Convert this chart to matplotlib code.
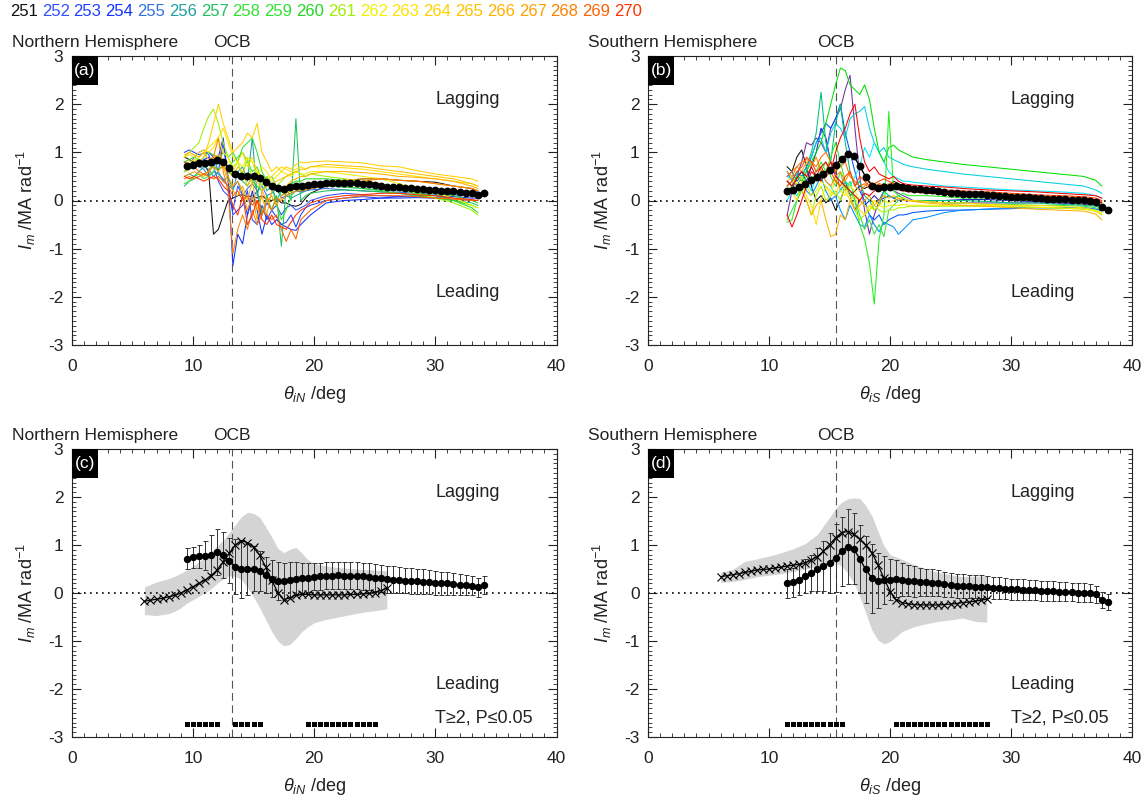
import matplotlib
matplotlib.use("Agg")
import matplotlib.pyplot as plt
import numpy as np
from matplotlib.patches import Rectangle
from matplotlib.ticker import MultipleLocator

plt.rcParams['font.family'] = ['Liberation Sans', 'DejaVu Sans']
plt.rcParams['mathtext.fontset'] = 'custom'
plt.rcParams['mathtext.rm'] = 'Liberation Sans'
plt.rcParams['mathtext.it'] = 'Liberation Sans:italic'
plt.rcParams['mathtext.bf'] = 'Liberation Sans:bold'
plt.rcParams['axes.unicode_minus'] = False

# ---------------------------------------------------------------- events
event_ids = list(range(251, 271))
event_colors = ['#111111', '#3050ff', '#2040ff', '#1030ff', '#3070e0',
                '#20a0a0', '#20c060', '#30e030', '#30e030', '#20d820',
                '#a0f000', '#f0f000', '#ffe000', '#ffd000', '#ffc000',
                '#ffb000', '#ffa000', '#ff8000', '#ff6000', '#ff3000']
south_colors = ['#111111', '#7030a0', '#2020c0', '#0050ff', '#0090ff',
                '#00d0e0', '#00e8ff', '#00c080', '#00e000', '#20f020',
                '#40e040', '#b0f000', '#f0f000', '#ffe000', '#ffb000',
                '#ff9000', '#ff7000', '#ff4000', '#ff0000', '#e00000']

# ---------------------------------------------------------------- OCB positions
ocb_n = 13.25
ocb_s = 15.55

# ---------------------------------------------------------------- individual events, north
xa_grid = [9.3, 9.7, 10.1, 10.5, 10.9, 11.3, 11.7, 12.1, 12.5, 12.9, 13.3, 13.7,
           14.1, 14.5, 14.9, 15.3, 15.7, 16.1, 16.5, 16.9, 17.3, 17.7, 18.1, 18.5,
           18.9, 19.3, 19.7, 21.0, 22.5, 24.0, 25.5, 27.0, 28.5, 30.0, 31.5, 33.0, 33.5]

a251 = [0.9, 0.85, 0.8, 0.85, 0.75, 0.6, -0.7, -0.6, -0.3, 0.0, 0.05, 0.1, 0.12, 0.08, 0.1, 0.05, 0.1, 0.02, 0.0, 0.05, -0.05, -0.05, -0.1, -0.12, -0.08, 0.05, 0.15,
        0.3, 0.4, 0.45, 0.45, 0.42, 0.4, 0.38, 0.3, 0.25, 0.2]
a252 = [0.6, 0.7, 0.9, 1.0, 1.05, 0.95, 0.7, 0.4, 0.2, 0.1, -0.2, 0.3, 0.1, -0.3, 0.05, 0.2, -0.3, -0.05, -0.2, -0.1, -0.3, -0.15, -0.1, -0.2, -0.15, -0.1, 0.0,
        0.1, 0.15, 0.12, 0.1, 0.08, 0.07, 0.05, 0.03, 0.0, 0.0]
a253 = [1.0, 1.05, 1.0, 0.95, 0.98, 1.0, 0.9, 0.6, 1.2, 0.4, -0.3, -0.2, -0.1, 0.2, -0.4, -0.5, -0.1, -0.4, -0.2, -0.35, -0.5, -0.45, -0.3, -0.55, -0.3, -0.15, -0.1,
        0.0, 0.05, 0.08, 0.05, 0.05, 0.06, 0.05, 0.08, 0.15, 0.2]
a254 = [0.8, 0.75, 0.7, 0.8, 0.85, 0.9, 0.7, 0.9, 1.3, 0.5, -1.35, -0.7, -0.9, -0.3, 0.2, -0.2, -0.7, -0.3, -0.5, -0.4, -0.5, -0.55, -0.6, -0.62, -0.5, -0.4, -0.3,
        -0.05, 0.0, 0.02, 0.05, 0.08, 0.1, 0.1, 0.08, 0.05, 0.05]
a255 = [0.7, 0.75, 0.8, 0.7, 0.65, 0.5, 0.6, 0.55, 0.45, 0.3, 0.25, 0.4, 0.1, 0.25, 0.35, 0.2, 0.3, 0.1, 0.15, 0.25, 0.05, 0.1, 0.15, 0.2, 0.18, 0.2, 0.22,
        0.25, 0.22, 0.2, 0.18, 0.17, 0.15, 0.13, 0.12, 0.1, 0.1]
a256 = [0.5, 0.55, 0.5, 0.6, 0.7, 0.65, 0.5, 0.6, 0.4, 0.5, 0.2, 0.6, 0.7, 0.4, 1.3, 0.1, 0.5, 0.2, 0.3, 0.0, 0.2, 0.1, 0.05, 0.1, 0.15, 0.2, 0.25,
        0.3, 0.28, 0.25, 0.22, 0.2, 0.18, 0.15, 0.13, 0.1, 0.1]
a257 = [0.3, 0.4, 0.45, 0.5, 0.55, 0.6, 0.75, 0.9, 0.8, 0.7, 0.5, 0.6, 0.4, 0.3, 0.5, 0.2, -0.3, 0.1, -0.2, 0.1, -0.95, 0.3, 0.0, 1.7, 0.0, 0.1, 0.15,
        0.2, 0.22, 0.2, 0.18, 0.15, 0.1, 0.05, 0.0, -0.05, -0.1]
a258 = [0.35, 0.4, 0.5, 0.55, 0.45, 0.5, 0.6, 0.8, 1.0, 0.9, 1.0, 0.8, 1.1, 1.2, 1.3, 1.0, 0.6, 0.4, 0.5, 0.3, 0.1, 0.2, 0.3, 0.25, 0.2, 0.25, 0.3,
        0.3, 0.28, 0.25, 0.2, 0.15, 0.1, 0.05, 0.0, -0.1, -0.15]
a259 = [0.6, 0.65, 0.7, 0.8, 0.9, 1.0, 0.95, 0.9, 0.85, 0.7, 0.8, 0.9, 1.0, 0.8, 0.6, 0.7, 0.4, 0.5, 0.3, -0.1, -0.4, -0.2, 0.1, 0.2, 0.25, 0.3, 0.35,
        0.4, 0.38, 0.35, 0.3, 0.25, 0.2, 0.15, 0.1, 0.0, -0.05]
a260 = [0.8, 0.85, 0.9, 0.85, 0.8, 0.75, 0.7, 0.65, 0.7, 0.6, 0.5, 0.55, 0.45, 0.5, 0.4, 0.3, 0.2, 0.35, 0.3, 0.25, 0.2, 0.3, 0.35, 0.4, 0.4, 0.45, 0.45,
        0.45, 0.42, 0.38, 0.3, 0.22, 0.15, 0.1, 0.0, -0.15, -0.25]
a261 = [0.9, 1.0, 1.1, 1.2, 1.5, 1.75, 1.9, 1.6, 1.2, 0.9, 0.7, 0.8, 0.5, 0.9, 0.4, 0.6, 0.3, 0.5, 0.2, 0.3, 0.4, 0.5, 0.55, 0.6, 0.55, 0.5, 0.55,
        0.5, 0.45, 0.4, 0.35, 0.25, 0.15, 0.05, -0.05, -0.2, -0.3]
a262 = [0.7, 0.75, 0.8, 0.9, 1.0, 1.1, 1.2, 1.3, 1.0, 0.9, 0.6, 0.8, 0.7, 0.9, 0.8, 0.5, 0.7, 0.6, 0.4, 0.5, 0.6, 0.55, 0.5, 0.6, 0.55, 0.55, 0.6,
        0.6, 0.55, 0.5, 0.45, 0.35, 0.25, 0.15, 0.05, -0.1, -0.15]
a263 = [0.9, 0.95, 0.9, 1.0, 1.05, 1.0, 1.1, 1.3, 1.5, 1.2, 0.9, 0.8, 1.0, 0.7, 0.9, 0.6, 0.5, 0.4, 0.5, 0.6, 0.7, 0.65, 0.6, 0.65, 0.7, 0.65, 0.7,
        0.7, 0.68, 0.65, 0.6, 0.55, 0.5, 0.45, 0.4, 0.35, 0.3]
a264 = [0.75, 0.8, 0.85, 0.8, 0.9, 1.2, 1.6, 2.0, 1.6, 1.3, 1.0, 1.1, 1.2, 1.4, 1.3, 1.6, 1.0, 0.8, 0.6, 0.7, 0.6, 0.7, 0.65, 0.75, 0.8, 0.78, 0.8,
        0.82, 0.8, 0.78, 0.72, 0.7, 0.62, 0.55, 0.5, 0.45, 0.4]
a265 = [0.6, 0.65, 0.7, 0.75, 0.7, 0.8, 0.9, 0.8, 0.7, 0.6, 0.5, 0.7, 0.6, 0.3, 0.5, 0.4, 0.2, 0.3, 0.35, 0.4, 0.45, 0.5, 0.55, 0.6, 0.65, 0.65, 0.7,
        0.75, 0.72, 0.7, 0.65, 0.6, 0.55, 0.5, 0.45, 0.35, 0.3]
a266 = [0.95, 1.0, 0.95, 0.9, 1.0, 0.85, 0.9, 0.95, 0.7, 0.4, 0.2, 0.1, 0.3, 0.0, 0.4, -0.2, 0.1, -0.3, 0.2, 0.3, 0.2, 0.3, 0.4, 0.45, 0.5, 0.5, 0.55,
        0.6, 0.6, 0.58, 0.55, 0.5, 0.48, 0.45, 0.4, 0.3, 0.25]
a267 = [0.5, 0.55, 0.6, 0.55, 0.5, 0.6, 0.7, 0.6, 0.8, 0.5, 0.3, 0.4, 0.2, -0.2, 0.1, -0.4, 0.2, 0.0, 0.1, -0.1, 0.1, 0.15, 0.2, 0.25, 0.3, 0.35, 0.35,
        0.4, 0.42, 0.45, 0.45, 0.42, 0.4, 0.35, 0.3, 0.25, 0.2]
a268 = [0.45, 0.5, 0.45, 0.5, 0.55, 0.6, 0.9, 1.3, 0.6, 0.2, -1.1, -0.6, -0.3, -0.6, -0.2, -0.5, -0.3, 0.0, -0.2, 0.05, 0.0, 0.1, 0.15, 0.2, 0.2, 0.22, 0.25,
        0.3, 0.35, 0.4, 0.45, 0.42, 0.4, 0.35, 0.3, 0.25, 0.2]
a269 = [0.8, 0.75, 0.7, 0.6, 0.55, 0.5, 0.45, 0.5, 0.4, 0.3, 0.1, 0.2, 0.0, 0.1, -0.1, 0.0, -0.2, -0.3, -0.4, -0.3, -0.6, -0.85, -0.6, -0.8, -0.4, -0.3, -0.2,
        0.0, 0.05, 0.1, 0.1, 0.1, 0.08, 0.05, 0.03, 0.0, 0.0]
a270 = [0.5, 0.45, 0.5, 0.45, 0.4, 0.45, 0.5, 0.45, 0.3, 0.2, -0.1, -0.3, 0.1, -0.5, -0.3, 0.0, -0.4, -0.5, -0.3, -0.5, -0.55, -0.6, -0.45, -0.3, -0.2, -0.15, -0.05,
        0.05, 0.1, 0.12, 0.15, 0.15, 0.12, 0.1, 0.05, 0.02, 0.0]
north_events = [a251, a252, a253, a254, a255, a256, a257, a258, a259, a260,
                a261, a262, a263, a264, a265, a266, a267, a268, a269, a270]

# ---------------------------------------------------------------- individual events, south
xb_grid = [11.5, 11.9, 12.3, 12.7, 13.1, 13.5, 13.9, 14.3, 14.7, 15.1, 15.5, 15.9,
           16.3, 16.7, 17.1, 17.5, 17.9, 18.3, 18.7, 19.1, 19.5, 19.9, 20.3, 20.7,
           21.1, 21.5, 21.9, 23.0, 24.5, 26.0, 28.0, 30.0, 32.0, 34.0, 36.0, 37.0, 37.5]

b01 = [0.7, 0.6, 0.9, 1.05, 0.7, 0.3, 0.0, 0.1, -0.05, 0.05, -0.2, 0.0, 0.3, 0.1, 0.2, 0.3, 0.25, 0.3, 0.35, 0.3, 0.35, 0.3, 0.4, 0.35, 0.3, 0.3, 0.28,
       0.25, 0.2, 0.15, 0.12, 0.1, 0.08, 0.05, 0.0, -0.05, -0.1]
b02 = [-0.3, 0.2, 0.5, 0.8, 1.2, 1.15, 1.3, 1.2, 1.0, 1.5, 1.7, 1.9, 2.3, 2.6, 1.5, 0.5, -0.2, -0.7, -0.3, 0.0, 0.2, 0.3, 0.2, 0.15, 0.1, 0.05, 0.0,
       -0.02, -0.05, -0.05, -0.05, -0.05, -0.05, -0.05, -0.08, -0.1, -0.15]
b03 = [0.4, 0.3, 0.5, 0.6, 0.4, 0.7, 1.0, 1.5, 1.3, 0.8, 0.6, 0.2, 0.4, 0.1, -0.2, 0.0, -0.1, 0.0, 0.1, 0.0, 0.05, 0.1, 0.05, 0.0, 0.02, 0.0, 0.0,
       0.0, 0.0, 0.02, 0.02, 0.0, -0.02, -0.05, -0.05, -0.08, -0.12]
b04 = [0.5, 0.6, 0.4, 0.5, 0.7, 0.9, 1.2, 1.4, 1.6, 1.5, 1.7, 2.0, 1.4, 1.0, 0.6, 0.2, 0.0, -0.3, -0.4, -0.3, -0.5, -0.4, -0.35, -0.3, -0.3, -0.28, -0.25,
       -0.22, -0.2, -0.2, -0.18, -0.17, -0.15, -0.15, -0.15, -0.18, -0.2]
b05 = [0.6, 0.4, 0.3, 0.5, 0.2, 0.1, 0.3, 0.5, 0.2, 0.0, 0.1, -0.2, -0.4, -0.1, -0.3, -0.5, -0.55, -0.3, -0.5, -0.65, -0.45, -0.5, -0.55, -0.7, -0.6, -0.5, -0.4,
       -0.35, -0.25, -0.2, -0.18, -0.15, -0.15, -0.15, -0.15, -0.18, -0.22]
b06 = [0.5, 0.45, 0.55, 0.4, 0.6, 0.9, 1.2, 1.3, 1.0, 1.4, 1.6, 1.5, 1.3, 1.7, 1.8, 1.85, 1.95, 1.5, 1.2, 1.0, 1.1, 0.9, 0.85, 0.8, 0.75, 0.72, 0.7,
       0.65, 0.6, 0.55, 0.5, 0.45, 0.4, 0.35, 0.3, 0.22, 0.15]
b07 = [0.0, 0.2, 0.1, 0.3, 0.4, 0.2, 0.5, 0.6, 0.4, 0.3, 0.1, 0.2, 0.4, 0.3, 0.5, 0.7, 1.1, 0.9, 1.2, 1.0, 0.8, 0.6, 0.5, 0.45, 0.4, 0.4, 0.38,
       0.35, 0.3, 0.28, 0.25, 0.22, 0.2, 0.18, 0.15, 0.1, 0.05]
b08 = [0.3, 0.4, 0.6, 0.5, 0.7, 1.0, 1.4, 2.25, 1.2, 0.8, 1.6, 2.0, 1.2, 0.6, 0.3, 0.4, 0.1, 0.0, -0.2, -0.1, 0.2, 0.1, 0.05, 0.1, 0.05, 0.0, 0.0,
       0.0, 0.0, 0.0, -0.02, -0.05, -0.05, -0.08, -0.1, -0.12, -0.15]
b09 = [0.2, 0.3, 0.5, 0.4, 0.6, 0.8, 1.0, 1.2, 1.6, 2.0, 2.4, 2.75, 2.7, 2.4, 2.3, 2.2, 2.4, 2.1, 1.5, 1.0, 0.8, 1.1, 1.15, 1.05, 1.0, 0.95, 0.9,
       0.85, 0.8, 0.75, 0.7, 0.65, 0.6, 0.55, 0.5, 0.42, 0.3]
b10 = [-0.45, -0.4, 0.0, 0.3, 0.5, 0.4, 0.6, 0.8, 0.6, 0.9, 1.2, 0.8, 0.4, 0.2, 0.0, -0.5, -0.8, -1.3, -2.15, -0.8, -0.3, 1.85, 0.2, 0.1, 0.15, 0.1, 0.1,
       0.1, 0.08, 0.05, 0.05, 0.02, 0.0, 0.0, -0.03, -0.05, -0.1]
b11 = [-0.4, -0.2, 0.0, 0.2, 0.3, 0.5, 0.4, 0.6, 0.8, 0.5, 0.3, 0.6, 0.2, 0.4, 0.0, -0.3, -0.6, -0.4, -0.7, -0.5, -0.75, -0.2, -0.1, 0.0, 0.05, 0.0, 0.0,
       -0.02, -0.05, -0.05, -0.08, -0.08, -0.1, -0.1, -0.12, -0.15, -0.2]
b12 = [0.2, 0.25, 0.3, 0.2, 0.0, -0.3, 0.1, 0.3, 0.0, 0.1, 0.2, 0.0, 0.3, 0.1, -0.2, -0.4, -0.3, -0.2, -0.1, -0.2, -0.25, -0.2, -0.2, -0.15, -0.15, -0.12, -0.12,
       -0.12, -0.12, -0.12, -0.12, -0.12, -0.14, -0.16, -0.18, -0.22, -0.3]
b13 = [0.3, 0.4, 0.35, 0.5, 0.3, 0.1, 0.2, 0.4, 0.3, 0.1, 0.5, 0.2, 0.1, 0.3, 0.2, 0.0, -0.1, -0.2, 0.0, -0.1, -0.15, -0.1, -0.1, -0.1, -0.08, -0.1, -0.1,
       -0.1, -0.1, -0.1, -0.1, -0.12, -0.14, -0.15, -0.18, -0.22, -0.28]
b14 = [0.1, 0.2, 0.0, 0.4, 0.1, -0.1, -0.5, 0.0, 0.3, 0.2, 0.1, 0.4, 0.2, 0.0, 0.1, -0.2, -0.3, -0.1, -0.2, -0.1, 0.0, -0.05, 0.0, 0.05, 0.05, 0.0, 0.0,
       -0.02, -0.05, -0.05, -0.08, -0.1, -0.1, -0.12, -0.15, -0.2, -0.25]
b15 = [0.4, 0.5, 0.3, 0.2, 0.0, -0.3, -0.1, 0.0, -0.4, -0.75, -0.7, -0.3, -0.4, 0.0, -0.2, -0.1, 0.0, 0.1, -0.1, 0.0, 0.1, 0.05, 0.1, 0.05, 0.0, 0.0, -0.02,
       -0.05, -0.08, -0.1, -0.12, -0.15, -0.18, -0.2, -0.22, -0.28, -0.4]
b16 = [0.6, 0.5, 0.7, 0.6, 0.8, 0.7, 0.9, 0.6, 0.4, 0.3, 0.5, 0.6, 0.4, 0.6, 0.3, 0.2, 0.3, 0.4, 0.3, 0.35, 0.3, 0.35, 0.3, 0.3, 0.28, 0.25, 0.25,
       0.22, 0.2, 0.18, 0.15, 0.12, 0.1, 0.08, 0.05, 0.0, -0.05]
b17 = [0.5, 0.6, 0.7, 0.8, 0.85, 0.8, 0.7, 0.9, 1.0, 0.8, 0.6, 0.7, 0.8, 0.5, 0.4, 0.3, 0.35, 0.25, 0.3, 0.35, 0.3, 0.28, 0.3, 0.25, 0.22, 0.2, 0.2,
       0.2, 0.18, 0.15, 0.12, 0.1, 0.08, 0.06, 0.05, 0.02, -0.02]
b18 = [0.3, 0.4, 0.6, 0.7, 0.9, 0.8, 0.6, 0.7, 0.5, 0.6, 0.4, 0.3, 0.5, 0.6, 0.3, 0.5, 0.4, 0.3, 0.35, 0.4, 0.45, 0.4, 0.35, 0.3, 0.3, 0.28, 0.28,
       0.25, 0.22, 0.2, 0.18, 0.15, 0.12, 0.1, 0.08, 0.05, 0.0]
b19 = [-0.3, -0.55, -0.3, 0.0, 0.3, 0.6, 0.5, 0.7, 0.8, 0.6, 1.0, 1.3, 1.5, 1.8, 2.0, 1.3, 0.8, 0.6, 0.7, 0.55, 0.5, 0.45, 0.5, 0.4, 0.35, 0.33, 0.32,
       0.3, 0.28, 0.25, 0.22, 0.2, 0.18, 0.15, 0.12, 0.1, 0.05]
b20 = [0.4, 0.3, 0.45, 0.6, 0.5, 0.7, 0.5, 0.4, 0.6, 0.8, 0.5, 0.4, 0.3, 0.2, 0.1, 0.0, 0.15, 0.1, 0.2, 0.25, 0.3, 0.28, 0.25, 0.22, 0.2, 0.18, 0.18,
       0.15, 0.13, 0.12, 0.1, 0.08, 0.06, 0.05, 0.03, 0.0, -0.05]
south_events = [b01, b02, b03, b04, b05, b06, b07, b08, b09, b10,
                b11, b12, b13, b14, b15, b16, b17, b18, b19, b20]

# ---------------------------------------------------------------- event averages (0.5 deg bins)
mean_n_x = np.arange(9.5, 34.01, 0.5)
mean_n = [0.71, 0.74, 0.77, 0.78, 0.8, 0.85, 0.8, 0.67, 0.55, 0.5,
          0.5, 0.51, 0.46, 0.38, 0.3, 0.25, 0.24, 0.28, 0.3, 0.31,
          0.32, 0.34, 0.35, 0.36, 0.36, 0.37, 0.36, 0.36, 0.36, 0.35,
          0.34, 0.32, 0.31, 0.29, 0.28, 0.27, 0.26, 0.25, 0.24, 0.23,
          0.22, 0.21, 0.2, 0.2, 0.19, 0.17, 0.16, 0.15, 0.12, 0.16]
err_n = [0.22, 0.22, 0.24, 0.3, 0.4, 0.48, 0.48, 0.47, 0.58, 0.6,
         0.54, 0.46, 0.42, 0.38, 0.38, 0.4, 0.39, 0.36, 0.34, 0.32,
         0.3, 0.28, 0.28, 0.28, 0.28, 0.28, 0.28, 0.28, 0.28, 0.28,
         0.28, 0.28, 0.28, 0.28, 0.28, 0.27, 0.27, 0.27, 0.26, 0.26,
         0.25, 0.25, 0.24, 0.24, 0.23, 0.22, 0.21, 0.2, 0.2, 0.19]

mean_s_x = np.arange(11.5, 38.01, 0.5)
mean_s = [0.2, 0.22, 0.28, 0.35, 0.42, 0.49, 0.56, 0.63, 0.73, 0.87,
          0.96, 0.92, 0.71, 0.49, 0.31, 0.26, 0.27, 0.28, 0.3, 0.28,
          0.26, 0.24, 0.23, 0.22, 0.21, 0.2, 0.18, 0.16,
          0.15, 0.14, 0.14, 0.13, 0.13, 0.12, 0.11, 0.1, 0.09, 0.08,
          0.08, 0.07, 0.07, 0.06, 0.05, 0.04, 0.04, 0.03, 0.03, 0.02,
          0.01, 0.01, 0.0, -0.03, -0.14, -0.19]
err_s = [0.3, 0.3, 0.32, 0.35, 0.38, 0.45, 0.52, 0.62, 0.7, 0.72,
         0.78, 0.74, 0.7, 0.7, 0.72, 0.58, 0.5, 0.43, 0.38, 0.35,
         0.33, 0.32, 0.3, 0.29, 0.28, 0.27, 0.26, 0.25,
         0.25, 0.25, 0.24, 0.24, 0.24, 0.23, 0.23, 0.23, 0.22, 0.22,
         0.22, 0.22, 0.21, 0.21, 0.21, 0.2, 0.2, 0.2, 0.2, 0.19,
         0.19, 0.19, 0.18, 0.18, 0.17, 0.17]

# ---------------------------------------------------------------- reference profiles with spread
ref_n_x = np.arange(6.0, 26.01, 0.5)
ref_n = [-0.17, -0.15, -0.13, -0.11, -0.08, -0.05, 0.0, 0.06, 0.13, 0.2,
         0.27, 0.36, 0.48, 0.65, 0.83, 1.0, 1.09, 1.05, 0.95, 0.79,
         0.55, 0.27, 0.01, -0.14, -0.1, -0.04, -0.03, -0.03, -0.04, -0.04,
         -0.04, -0.04, -0.04, -0.04, -0.03, -0.03, -0.02, -0.01, 0.01, 0.05, 0.1]
band_n_x = [6, 7, 8, 8.5, 9, 9.5, 10, 10.5, 11, 11.5, 12, 12.5, 13, 13.5, 14, 14.5,
            15, 15.5, 16, 16.5, 17, 17.5, 18, 18.5, 19, 19.5, 20, 21, 22, 23, 24, 25, 26]
band_n_hi = [0.13, 0.23, 0.3, 0.35, 0.41, 0.48, 0.56, 0.65, 0.76, 0.86, 0.98, 1.1, 1.26, 1.42, 1.59, 1.68,
             1.66, 1.58, 1.38, 1.17, 0.93, 0.84, 0.91, 0.95, 0.83, 0.69, 0.62, 0.56, 0.53, 0.51, 0.49, 0.48, 0.46]
band_n_lo = [-0.45, -0.47, -0.43, -0.38, -0.31, -0.21, -0.14, -0.07, 0.0, 0.09, 0.2, 0.3, 0.36, 0.35, 0.28, 0.12,
             -0.08, -0.3, -0.55, -0.8, -1.0, -1.1, -1.07, -0.95, -0.8, -0.7, -0.62, -0.55, -0.5, -0.45, -0.4, -0.37, -0.33]

ref_s_x = np.arange(6.0, 28.01, 0.5)
ref_s = [0.34, 0.36, 0.38, 0.4, 0.43, 0.45, 0.48, 0.49, 0.5, 0.52,
         0.54, 0.56, 0.58, 0.6, 0.63,
         0.69, 0.76, 0.87, 1.01, 1.15, 1.26, 1.28, 1.22, 1.12, 0.99,
         0.84, 0.59, 0.31, 0.03,
         -0.14, -0.2, -0.23, -0.24, -0.25, -0.25, -0.25, -0.25, -0.24, -0.23,
         -0.22, -0.2, -0.19, -0.17, -0.15, -0.13]
band_s_x = [6, 7, 8, 9, 10, 11, 12, 13, 14, 14.5, 15, 15.5, 16, 16.5, 17, 17.5,
            18, 18.5, 19, 19.5, 20, 20.5, 21, 22, 23, 24, 25, 26, 27, 28]
band_s_hi = [0.43, 0.49, 0.66, 0.71, 0.77, 0.84, 0.92, 1.03, 1.22, 1.4, 1.57, 1.76, 1.89, 1.96, 1.98, 1.97,
             1.82, 1.61, 1.29, 0.98, 0.8, 0.75, 0.7, 0.59, 0.5, 0.43, 0.38, 0.34, 0.35, 0.36]
band_s_lo = [0.22, 0.24, 0.28, 0.34, 0.37, 0.4, 0.45, 0.5, 0.56, 0.59, 0.62, 0.63, 0.56, 0.42, 0.21, -0.07,
             -0.42, -0.77, -0.98, -1.06, -1.01, -0.91, -0.8, -0.7, -0.64, -0.59, -0.56, -0.52, -0.59, -0.61]

# ---------------------------------------------------------------- significant bins (T>=2, P<=0.05)
sig_n = [9.5, 10, 10.5, 11, 11.5, 12, 13.5, 14, 14.5, 15, 15.5,
         19.5, 20, 20.5, 21, 21.5, 22, 22.5, 23, 23.5, 24, 24.5, 25]
sig_s = [11.5, 12, 12.5, 13, 13.5, 14, 14.5, 15, 15.5, 16,
         20.5, 21, 21.5, 22, 22.5, 23, 23.5, 24, 24.5, 25, 25.5, 26, 26.5, 27, 27.5, 28]
sig_level = -2.73

# ---------------------------------------------------------------- figure
W, H = 1145, 801
fig = plt.figure(figsize=(W / 100, H / 100), dpi=100)

def frac_axes(x0, x1, y0, y1):
    return fig.add_axes([x0 / W, 1 - y1 / H, (x1 - x0) / W, (y1 - y0) / H])

ax_a = frac_axes(71.7, 556.5, 56, 345)
ax_b = frac_axes(648.0, 1132.0, 56, 345)
ax_c = frac_axes(71.7, 556.5, 449, 737)
ax_d = frac_axes(648.0, 1132.0, 449, 737)

FS = 12.5
ylab = r'$I_m$ /MA rad$^{-1}$'


def frame(ax, tag, hemi, ocb, xlab):
    ax.set_xlim(0, 40)
    ax.set_ylim(-3, 3)
    ax.xaxis.set_major_locator(MultipleLocator(10))
    ax.xaxis.set_minor_locator(MultipleLocator(1))
    ax.yaxis.set_major_locator(MultipleLocator(1))
    ax.yaxis.set_minor_locator(MultipleLocator(0.1))
    ax.tick_params(which='both', direction='in', top=True, right=True,
                   labelsize=12.5, colors='#222222')
    ax.tick_params(which='major', length=6.5, width=0.8)
    ax.tick_params(which='minor', length=3.2, width=0.6)
    ax.tick_params(axis='x', pad=10)
    ax.tick_params(axis='y', pad=6)
    for sp in ax.spines.values():
        sp.set_linewidth(0.8)
        sp.set_color('#222222')
    ax.axhline(0, color='k', lw=1.2, dashes=(1, 2.6), zorder=2)
    ax.axvline(ocb, color='#555555', lw=0.8, dashes=(7, 4), zorder=2)
    ax.set_ylabel(ylab, fontsize=13, color='#222222')
    ax.yaxis.set_label_coords(-0.07, 0.5)
    ax.set_xlabel(xlab, fontsize=13, color='#222222')
    ax.xaxis.set_label_coords(0.5, -0.135)
    ax.text(30, 2.1, 'Lagging', fontsize=13, ha='left', va='center', color='#222222')
    ax.text(30, -1.9, 'Leading', fontsize=13, ha='left', va='center', color='#222222')
    ax.text(-0.123, 1.048, hemi, transform=ax.transAxes, fontsize=FS,
            ha='left', va='center', color='#222222')
    ax.annotate('OCB', xy=(ocb, 1.048), xycoords=('data', 'axes fraction'),
                fontsize=FS, ha='center', va='center', color='#222222')
    bw, bh = 0.054, 0.10
    ax.add_patch(Rectangle((0, 1 - bh), bw, bh, transform=ax.transAxes,
                           facecolor='k', edgecolor='none', zorder=6, clip_on=False))
    ax.text(bw / 2, 1 - bh / 2, tag, transform=ax.transAxes, color='white',
            fontsize=12.5, ha='center', va='center', zorder=7)


xlab_n = r'$\theta_{iN}$ /deg'
xlab_s = r'$\theta_{iS}$ /deg'

frame(ax_a, '(a)', 'Northern Hemisphere', ocb_n, xlab_n)
frame(ax_b, '(b)', 'Southern Hemisphere', ocb_s, xlab_s)
frame(ax_c, '(c)', 'Northern Hemisphere', ocb_n, xlab_n)
frame(ax_d, '(d)', 'Southern Hemisphere', ocb_s, xlab_s)

# individual events
for ys, col in zip(north_events, event_colors):
    ax_a.plot(xa_grid[:len(ys)], ys, color=col, lw=0.75, zorder=3)
for ys, col in zip(south_events, south_colors):
    ax_b.plot(xb_grid[:len(ys)], ys, color=col, lw=0.75, zorder=3)

# averages on top of the events
ax_a.plot(mean_n_x, mean_n, '-o', color='k', lw=1.0, ms=4.6, zorder=5)
ax_b.plot(mean_s_x, mean_s, '-o', color='k', lw=1.0, ms=4.6, zorder=5)

# lower panels: spread band, reference profile, averages with error bars
for ax, bx, lo, hi, rx, ry, mx, my, me, sig in [
        (ax_c, band_n_x, band_n_lo, band_n_hi, ref_n_x, ref_n, mean_n_x, mean_n, err_n, sig_n),
        (ax_d, band_s_x, band_s_lo, band_s_hi, ref_s_x, ref_s, mean_s_x, mean_s, err_s, sig_s)]:
    ax.fill_between(bx, lo, hi, color='#d4d4d4', lw=0, zorder=1)
    ax.errorbar(mx, my, yerr=me, fmt='none', ecolor='#333333', elinewidth=0.7,
                capsize=1.8, capthick=0.7, zorder=3)
    ax.plot(mx, my, '-o', color='k', lw=1.0, ms=4.3, zorder=4)
    ax.plot(rx, ry, '-x', color='k', lw=0.9, ms=5.5, mew=0.8, zorder=4)
    ax.plot(sig, [sig_level] * len(sig), 's', color='k', ms=3.6, mew=0, zorder=4, ls='none')
    ax.text(30, -2.6, 'T\u22652, P\u22640.05', fontsize=13, ha='left', va='center',
            color='#222222')

# event colour key
for i, (eid, col) in enumerate(zip(event_ids, event_colors)):
    fig.text((10 + i * 31.8) / W, 1 - 12 / H, str(eid), color=col,
             fontsize=12, ha='left', va='center')

fig.savefig('out.png', dpi=100, facecolor='white')
